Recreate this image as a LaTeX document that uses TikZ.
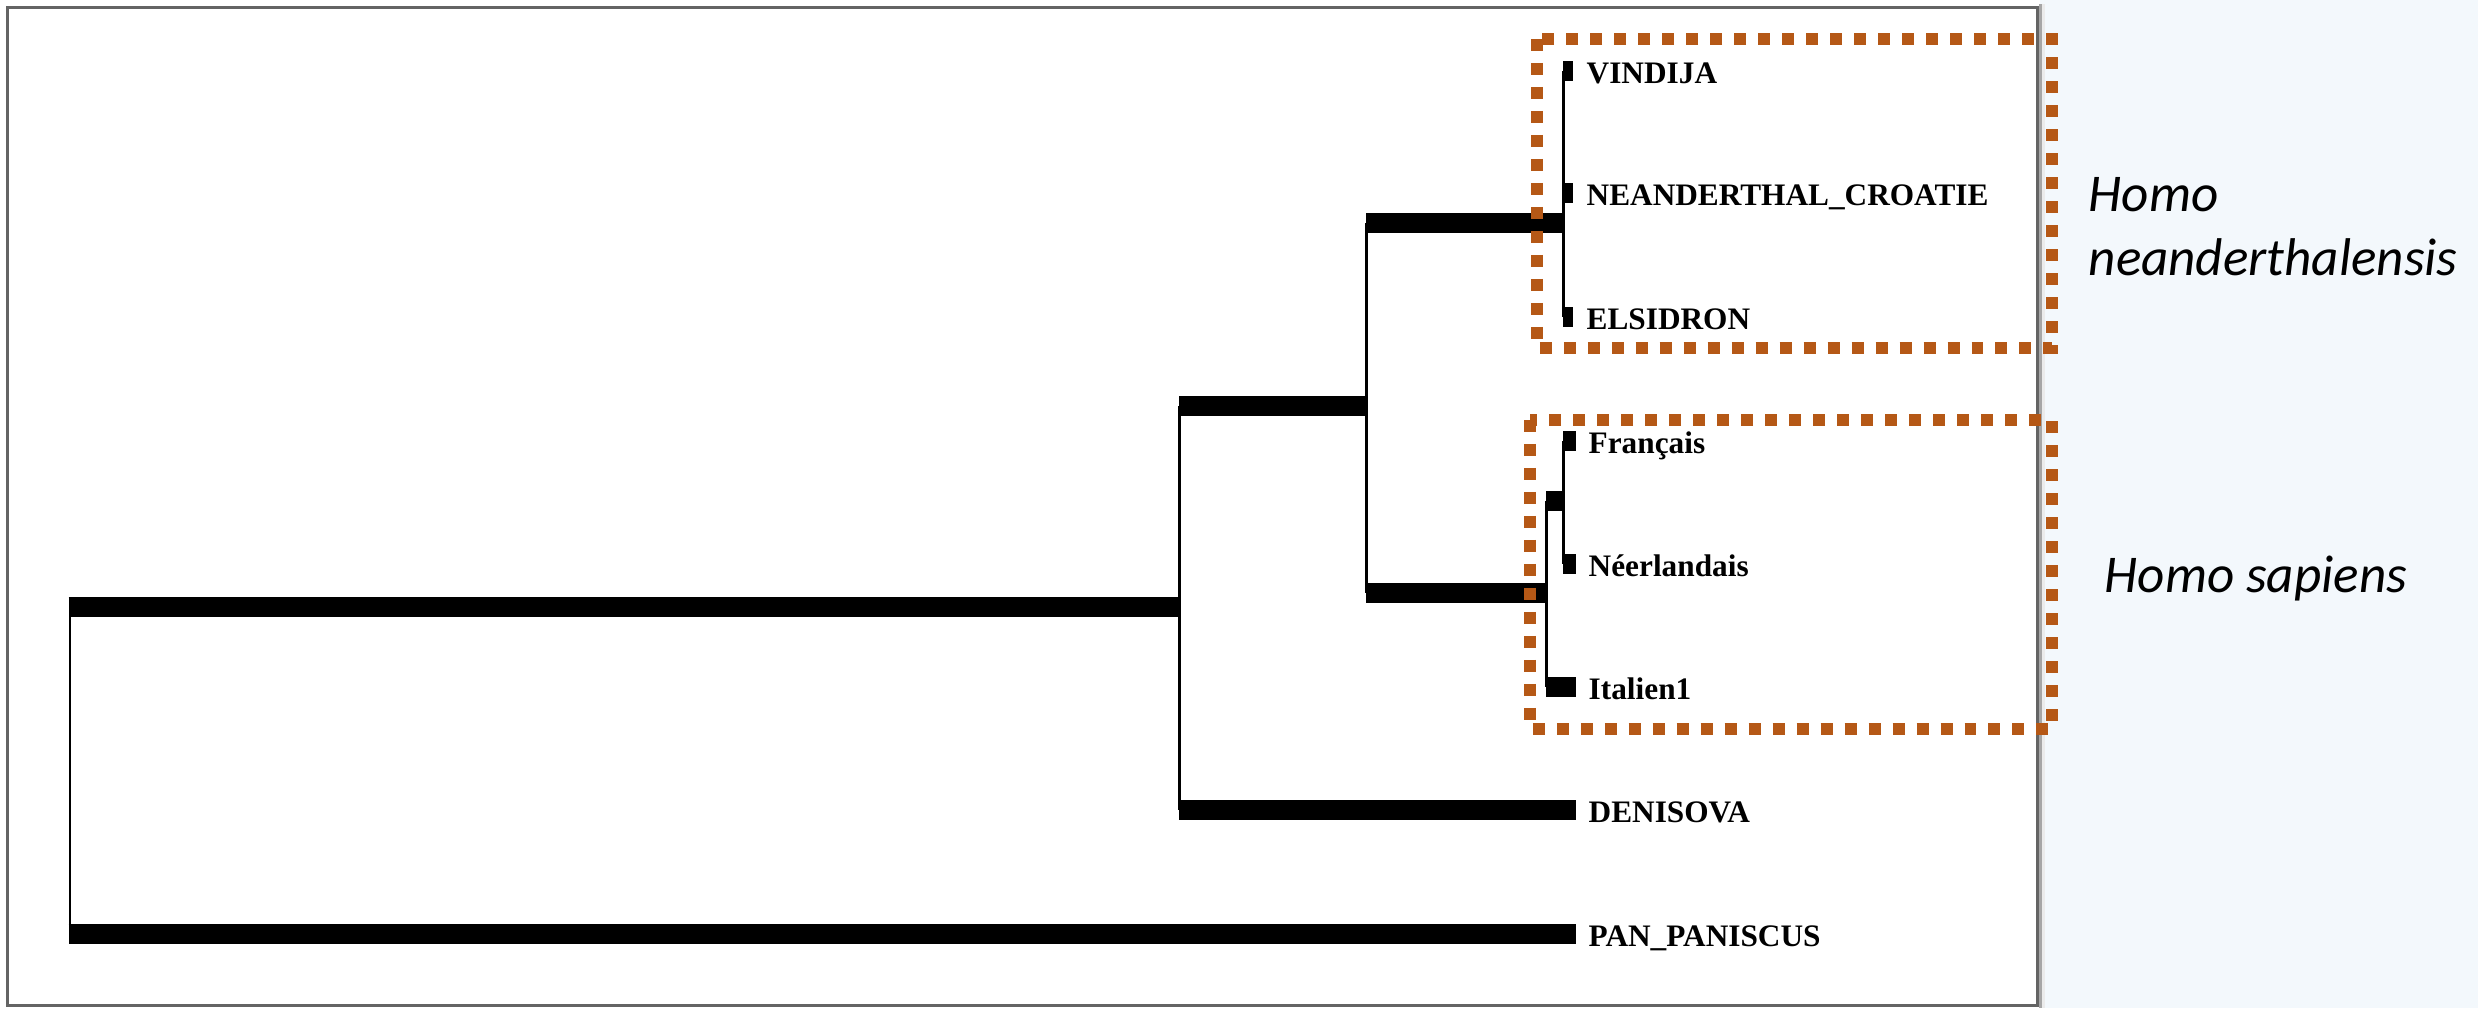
\documentclass[tikz,border=0pt]{standalone}
\usepackage{fontspec}
\setmainfont{Liberation Serif}
\newfontfamily\speciesfont{Carlito}
\usepackage{tikz}
\usetikzlibrary{positioning}
\definecolor{boxbrown}{RGB}{181,88,22}
\definecolor{paneblue}{RGB}{243,248,252}
\definecolor{framegrey}{RGB}{100,100,100}
\tikzset{
    branch/.style={draw, line width=5.69pt},
    stem/.style={draw, line width=0.85pt},
    leaf/.style={anchor=base west, inner sep=0pt, font=\fontsize{8.9}{10}\selectfont\bfseries},
    group/.style={draw=boxbrown, line width=3.41pt, dash pattern=on 3.41pt off 3.41pt},
    species/.style={inner sep=0pt, align=left, font=\speciesfont\itshape\fontsize{15.1}{18.2}\selectfont}
}

\begin{document}
\begin{tikzpicture}[x=0.01cm, y=-0.01cm]
    % background and frame
    \fill[white] (0,0) rectangle (2040,1008);
    \fill[paneblue] (2040,0) rectangle (2478,1008);
    \fill[black!35] (2039,4) rectangle (2042,1008);
    \fill[black!8] (2042,4) rectangle (2045,1008);
    \draw[framegrey, line width=0.85pt] (7.5,7.5) rectangle (2037.5,1005.5);
    \useasboundingbox (0,0) rectangle (2478,1008);

    % inner nodes
    \coordinate (root) at (70,607);
    \coordinate (n1) at (1179,607);
    \coordinate (n2) at (1366,406);
    \coordinate (n3) at (1563,223);
    \coordinate (n4) at (1546,593);
    \coordinate (n5) at (1563,501);

    % leaf tips
    \coordinate (t-vindija) at (1573,71);
    \coordinate (t-croatie) at (1573,193);
    \coordinate (t-elsidron) at (1573,317);
    \coordinate (t-francais) at (1576,441);
    \coordinate (t-neerl) at (1576,564);
    \coordinate (t-italien) at (1576,687);
    \coordinate (t-denisova) at (1576,810);
    \coordinate (t-pan) at (1576,934);

    % leaf labels
    \node[leaf] (vindija) at (1586,83) {VINDIJA};
    \node[leaf] (croatie) at (1586,205) {NEANDERTHAL\_CROATIE};
    \node[leaf] (elsidron) at (1586,329) {ELSIDRON};
    \node[leaf] (francais) at (1588,453) {Français};
    \node[leaf] (neerl) at (1588,576) {Néerlandais};
    \node[leaf] (italien) at (1588,699) {Italien1};
    \node[leaf] (denisova) at (1588,822) {DENISOVA};
    \node[leaf] (pan) at (1588,946) {PAN\_PANISCUS};

    % stems
    \draw[stem] (root |- n1) -- (root |- t-pan);
    \draw[stem] (n1 |- n2) -- (n1 |- t-denisova);
    \draw[stem] (n2 |- n3) -- (n2 |- n4);
    \draw[stem] (n3 |- t-vindija) -- (n3 |- t-elsidron);
    \draw[stem] (n4 |- n5) -- (n4 |- t-italien);
    \draw[stem] (n5 |- t-francais) -- (n5 |- t-neerl);

    % branches
    \draw[branch] (68.5,607) -- (n1);
    \draw[branch] (68.5,934) -- (t-pan);
    \draw[branch] (n1 |- n2) -- (n2);
    \draw[branch] (n1 |- t-denisova) -- (t-denisova);
    \draw[branch] (n2 |- n3) -- (n3);
    \draw[branch] (n2 |- n4) -- (n4);
    \draw[branch] (n3 |- t-vindija) -- (t-vindija);
    \draw[branch] (n3 |- t-croatie) -- (t-croatie);
    \draw[branch] (n3 |- t-elsidron) -- (t-elsidron);
    \draw[branch] (n4 |- n5) -- (n5);
    \draw[branch] (n4 |- t-italien) -- (t-italien);
    \draw[branch] (n5 |- t-francais) -- (t-francais);
    \draw[branch] (n5 |- t-neerl) -- (t-neerl);

    % groups
    \draw[group] (1537,39) rectangle (2052,348);
    \draw[group] (1530,420) rectangle (2052,729);
    \node[species, anchor=west] (neander) at (2088,227) {Homo\\neanderthalensis};
    \node[species, anchor=base west] (sapiens) at (2104,592) {Homo sapiens};
\end{tikzpicture}
\end{document}
